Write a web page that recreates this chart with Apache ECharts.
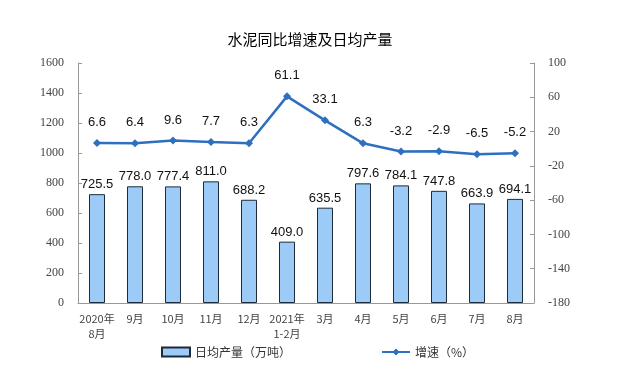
<!DOCTYPE html>
<html><head><meta charset="utf-8">
<script src="https://cdn.jsdelivr.net/npm/echarts@6/dist/echarts.min.js"></script>
<style>html,body{margin:0;padding:0;background:#fff}#c{width:620px;height:369px}</style>
</head><body><div id="c"></div>
<script>
const categories = ["2020年\n8月","9月","10月","11月","12月","2021年\n1-2月","3月","4月","5月","6月","7月","8月"];
const dailyOutput = [725.5,778.0,777.4,811.0,688.2,409.0,635.5,797.6,784.1,747.8,663.9,694.1];
const growth = [6.6,6.4,9.6,7.7,6.3,61.1,33.1,6.3,-3.2,-2.9,-6.5,-5.2];
const leftTicks = [0,200,400,600,800,1000,1200,1400,1600];
const rightTicks = [-180,-140,-100,-60,-20,20,60,100];

const chart = echarts.init(document.getElementById('c'));
const axisFont = {fontFamily:'Liberation Serif', fontSize:12, color:'#444'};
chart.setOption({
  animation:false,
  title:{text:'水泥同比增速及日均产量', left:'center', top:27,
    textStyle:{fontFamily:'Noto Sans CJK SC', fontSize:15, fontWeight:'normal', color:'#000'}},
  legend:{bottom:6, left:156, itemGap:90, itemWidth:28, itemHeight:9,
    textStyle:{fontFamily:'Noto Sans CJK SC', fontSize:12, color:'#333'},
    data:[{name:'日均产量（万吨）', icon:'rect'},{name:'增速（%）'}]},
  grid:{left:78, right:86, top:63, bottom:66, containLabel:false},
  xAxis:{type:'category', data:categories,
    axisLine:{lineStyle:{color:'#999'}},
    axisTick:{inside:true, length:4, lineStyle:{color:'#999'}},
    axisLabel:{fontFamily:'Noto Sans CJK SC', fontSize:11, color:'#444', lineHeight:15, interval:0}},
  yAxis:[
    {type:'value', min:0, max:1600, interval:200, splitLine:{show:false},
      axisLine:{show:true, lineStyle:{color:'#999'}},
      axisTick:{show:true, inside:true, length:4, lineStyle:{color:'#999'}},
      axisLabel:Object.assign({margin:14, customValues:leftTicks, formatter:v=>String(v)}, axisFont)},
    {type:'value', min:-180, max:100, splitLine:{show:false},
      axisLine:{show:true, lineStyle:{color:'#999'}},
      axisTick:{show:true, inside:true, length:4, lineStyle:{color:'#999'}, customValues:rightTicks},
      axisLabel:Object.assign({margin:14, customValues:rightTicks, formatter:v=>String(v)}, axisFont)}
  ],
  series:[
    {name:'日均产量（万吨）', type:'bar', data:dailyOutput, barWidth:16,
      itemStyle:{color:'#9ccbf7', borderColor:'#1c2a3a', borderWidth:1},
      label:{show:true, position:'top', distance:3, formatter:p=>p.value.toFixed(1),
        fontFamily:'Liberation Sans', fontSize:13, color:'#111'}},
    {name:'增速（%）', type:'line', yAxisIndex:1, data:growth,
      symbol:'diamond', symbolSize:8,
      lineStyle:{color:'#2f6fbf', width:2.5}, itemStyle:{color:'#2f6fbf'},
      label:{show:true, position:'top', distance:10, formatter:p=>p.value.toFixed(1),
        fontFamily:'Liberation Sans', fontSize:13, color:'#111'}}
  ]
});
</script></body></html>
